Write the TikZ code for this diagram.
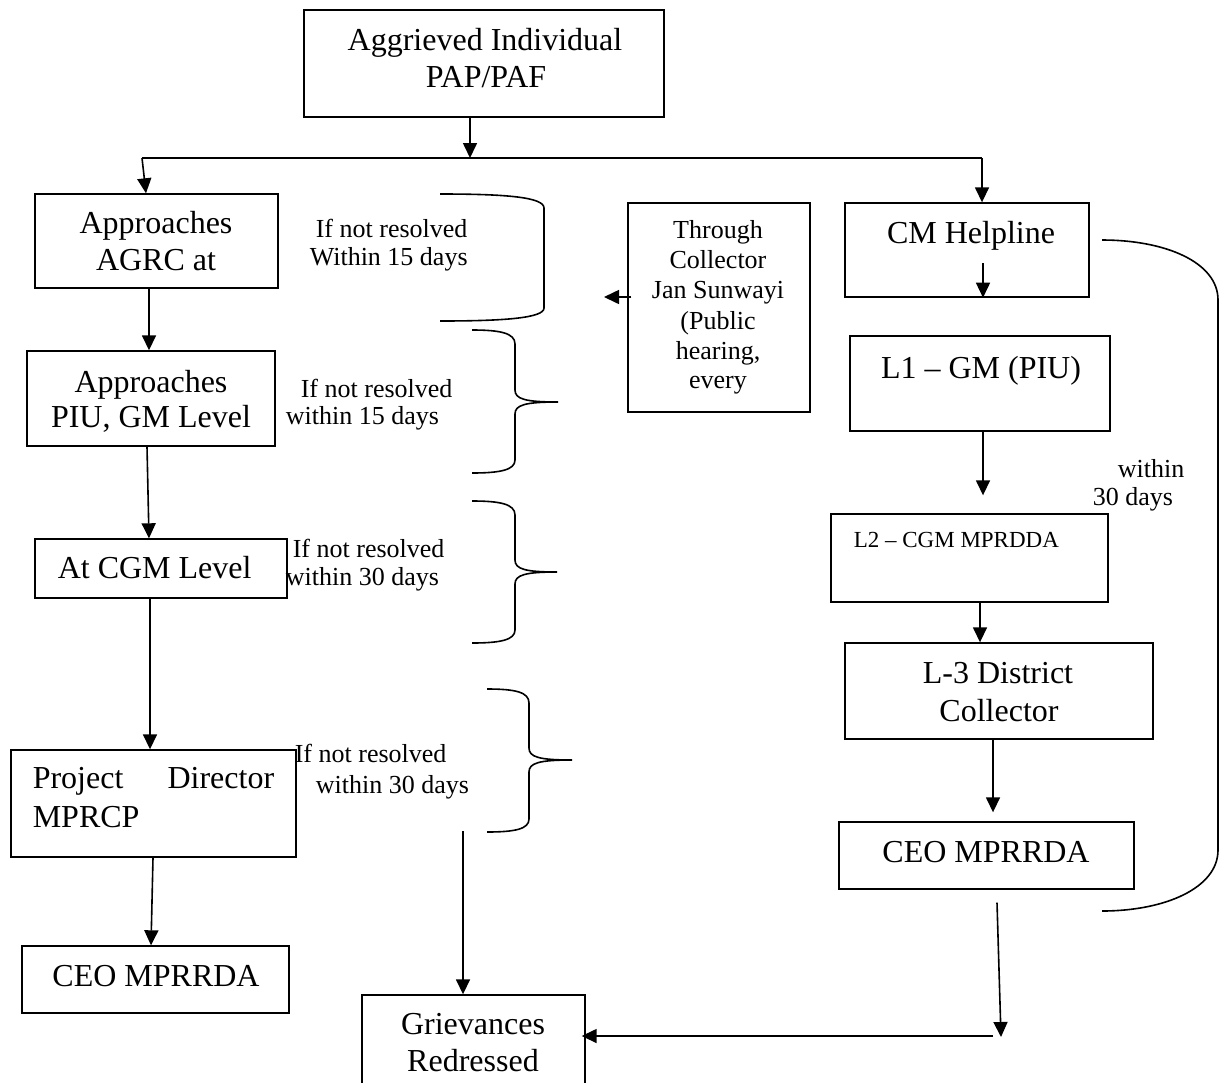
\documentclass[tikz,border=0pt]{standalone}
\usepackage{fontspec}
\setmainfont{Liberation Serif}
\usetikzlibrary{arrows.meta}
\begin{document}
\begin{tikzpicture}[x=1pt,y=-1pt,line width=1.6pt,
  box/.style={draw,line width=1.4pt,rectangle,inner sep=0pt},
  big/.style={font=\fontsize{32}{37}\selectfont,inner sep=0pt},
  small/.style={font=\fontsize{26}{30}\selectfont,inner sep=0pt},
  tiny/.style={font=\fontsize{23}{27}\selectfont,inner sep=0pt},
  arr/.style={-{Triangle[length=15pt,width=14pt]}},
  bracep/.style={line width=1.6pt}]
\useasboundingbox (0,0) rectangle (1230,1082);
% boxes
\node[box,minimum width=360pt,minimum height=107pt] (top) at (484,63.5) {};
\node[box,minimum width=243pt,minimum height=94pt] (agrc) at (156.5,241) {};
\node[box,minimum width=248pt,minimum height=95pt] (piu) at (151,398.5) {};
\node[box,minimum width=252pt,minimum height=59pt] (cgm) at (161,568.5) {};
\node[box,minimum width=285pt,minimum height=107pt] (pd) at (153.5,803.5) {};
\node[box,minimum width=267pt,minimum height=67pt] (ceoL) at (155.5,979.5) {};
\node[box,minimum width=223pt,minimum height=105pt] (griev) at (473.5,1047.5) {};
\node[box,minimum width=182pt,minimum height=209pt] (through) at (719,307.5) {};
\node[box,minimum width=244pt,minimum height=94pt] (cm) at (967,250) {};
\node[box,minimum width=260pt,minimum height=95pt] (L1) at (980,383.5) {};
\node[box,minimum width=277pt,minimum height=88pt] (L2) at (969.5,558) {};
\node[box,minimum width=308pt,minimum height=96pt] (L3) at (999,691) {};
\node[box,minimum width=295pt,minimum height=67pt] (ceoR) at (986.5,855.5) {};
% box texts
\node[big,anchor=base] (t1a) at (485,50) {Aggrieved Individual};
\node[big,anchor=base] (t1b) at (486,87) {PAP/PAF};
\node[big,anchor=base] (t2a) at (156,233) {Approaches};
\node[big,anchor=base] (t2b) at (156,270) {AGRC at};
\node[big,anchor=base] (t3a) at (151,392) {Approaches};
\node[big,anchor=base] (t3b) at (151,427) {PIU, GM Level};
\node[big,anchor=base west] (t4) at (57,578) {At CGM Level};
\node[big,anchor=base west] (t5a) at (32,788) {Project};
\node[big,anchor=base east] (t5b) at (275,788) {Director};
\node[big,anchor=base west] (t5c) at (32,827) {MPRCP};
\node[big,anchor=base] (t6) at (156,986) {CEO MPRRDA};
\node[big,anchor=base] (t7a) at (473,1034) {Grievances};
\node[big,anchor=base] (t7b) at (473,1071) {Redressed};
\node[big,anchor=base] (t8) at (971,243) {CM Helpline};
\node[big,anchor=base] (t9) at (981,378) {L1 -- GM (PIU)};
\node[tiny,anchor=base west] (t10) at (853,547) {L2 -- CGM MPRDDA};
\node[big,anchor=base] (t11a) at (998,683) {L-3 District};
\node[big,anchor=base] (t11b) at (999,721) {Collector};
\node[big,anchor=base] (t12) at (986,862) {CEO MPRRDA};
% through box text
\node[small,anchor=base] (u1) at (718,238) {Through};
\node[small,anchor=base] (u2) at (718,268) {Collector};
\node[small,anchor=base] (u3) at (718,298) {Jan Sunwayi};
\node[small,anchor=base] (u4) at (718,329) {(Public};
\node[small,anchor=base] (u5) at (718,359) {hearing,};
\node[small,anchor=base] (u6) at (718,388) {every};
% side labels
\node[small,anchor=base west] (s1a) at (315,237) {If not resolved};
\node[small,anchor=base west] (s1b) at (309,265) {Within 15 days};
\node[small,anchor=base west] (s2a) at (300,397) {If not resolved};
\node[small,anchor=base west] (s2b) at (285,424) {within 15 days};
\node[small,anchor=base west] (s3a) at (292,557) {If not resolved};
\node[small,anchor=base west] (s3b) at (285,585) {within 30 days};
\node[small,anchor=base west] (s4a) at (294,762) {If not resolved};
\node[small,anchor=base west] (s4b) at (315,793) {within 30 days};
\node[small,anchor=base west] (w1) at (1117,477) {within};
\node[small,anchor=base west] (w2) at (1092,505) {30 days};
% braces
\draw[bracep] (440,194) .. controls (505,194) and (544,197) .. (544,208) -- (544,308) .. controls (544,318) and (505,321) .. (440,321);
\draw[bracep] (472,330) .. controls (500,330) and (515,333) .. (515,344) -- (515,390) .. controls (515,399) and (525,402) .. (558,402) .. controls (525,402) and (515,405) .. (515,414) -- (515,460) .. controls (515,470) and (500,473) .. (472,473);
\draw[bracep] (472,501) .. controls (500,501) and (515,504) .. (515,515) -- (515,560) .. controls (515,569) and (525,572) .. (557,572) .. controls (525,572) and (515,575) .. (515,584) -- (515,630) .. controls (515,640) and (500,643) .. (472,643);
\draw[bracep] (487,689) .. controls (515,689) and (529,692) .. (529,703) -- (529,748) .. controls (529,757) and (539,760) .. (572,760) .. controls (539,760) and (529,763) .. (529,772) -- (529,819) .. controls (529,829) and (515,832) .. (487,832);
% coordinates
\coordinate (j0) at (470,158);
\coordinate (jl) at (142,158);
\coordinate (jr) at (982,158);
\coordinate (b4) at (463,831);
\coordinate (tl) at (604,297);
\coordinate (cmi) at (983,263);
\coordinate (cr) at (1001,1037);
\coordinate (hr) at (993,1036);
\coordinate (c1) at (1102,240);
\coordinate (c2) at (1102,911);
% connectors
\draw[arr] (top.south -| j0) -- (j0);
\draw (jl) -- (jr);
\draw[arr] (jl) -- ([xshift=4pt]agrc.north -| jl);
\draw[arr] (jr) -- (cm.north -| jr);
\draw[arr] ([xshift=-7.5pt]agrc.south) -- ([xshift=-2pt]piu.north);
\draw[arr] ([xshift=-4pt]piu.south) -- ([xshift=-12pt]cgm.north);
\draw[arr] ([xshift=-11pt]cgm.south) -- ([xshift=-3.5pt]pd.north);
\draw[arr] ([xshift=-0.5pt]pd.south) -- ([xshift=-4.5pt]ceoL.north);
\draw[arr] (b4) -- (griev.north -| b4);
\draw[arr] ([xshift=4pt,yshift=10.5pt]through.west) -- (tl);
\draw[arr] (cmi) -- (cm.south -| cmi);
\draw[arr] ([xshift=3pt]L1.south) -- ([xshift=13.5pt,yshift=18pt]L2.north);
\draw[arr] ([xshift=10.5pt]L2.south) -- ([xshift=-19pt]L3.north);
\draw[arr] ([xshift=-6pt]L3.south) -- ([xshift=6.5pt,yshift=9pt]ceoR.north);
\draw[arr] ([xshift=10.5pt,yshift=-13pt]ceoR.south) -- (cr);
\draw[arr,shorten >=-4pt] (hr) -- (griev.east |- hr);
\draw (c1) .. controls (1165,240) and (1218,262) .. (1218,300) -- (1218,850) .. controls (1218,888) and (1165,911) .. (c2);
\end{tikzpicture}
\end{document}
